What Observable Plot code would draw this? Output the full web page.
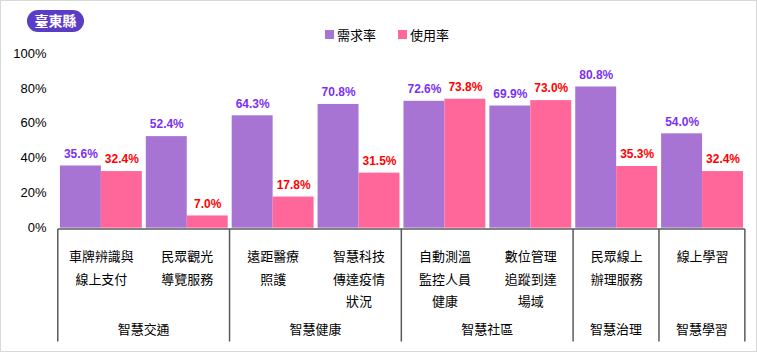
<!DOCTYPE html>
<html><head><meta charset="utf-8">
<script src="https://cdn.jsdelivr.net/npm/d3@7"></script>
<script src="https://cdn.jsdelivr.net/npm/@observablehq/plot@0.6"></script>
<style>
body{margin:0;background:#fff;font-family:"Liberation Sans","Noto Sans CJK TC",sans-serif;}
#wrap{position:relative;width:757px;height:352px;box-sizing:border-box;border:1px solid #d9d9d9;overflow:hidden;background:#fff}
#chart{position:absolute;left:-1px;top:-1px}
.badge{position:absolute;left:26px;top:9px;width:57px;height:22px;border-radius:11px;background:#5b3cc4;color:#fff;font-weight:bold;font-size:14px;line-height:22px;text-align:center;z-index:2}
.legend{position:absolute;left:324px;top:24px;display:flex;align-items:center;font-size:13px;color:#000;z-index:2}
.legend .item{display:flex;align-items:center;margin-right:22px}
.legend .sw{width:9px;height:9px;margin-right:3px}
</style></head>
<body>
<div id="wrap">
  <div class="badge">臺東縣</div>
  <div class="legend" id="legend"></div>
  <div id="chart"></div>
</div>
<script>
const categories = ["車牌辨識與\n線上支付","民眾觀光\n導覽服務","遠距醫療\n照護","智慧科技\n傳達疫情\n狀況","自動測溫\n監控人員\n健康","數位管理\n追蹤到達\n場域","民眾線上\n辦理服務","線上學習"];
const series = ["需求率","使用率"];
const needs = [35.6, 52.4, 64.3, 70.8, 72.6, 69.9, 80.8, 54.0];
const uses  = [32.4, 7.0, 17.8, 31.5, 73.8, 73.0, 35.3, 32.4];
const groupNames = ["智慧交通","智慧健康","智慧社區","智慧治理","智慧學習"];
const groupSizes = [2, 2, 2, 1, 1];
const yTicks = [0, 20, 40, 60, 80, 100];

const barColors = ["#a874d4", "#ff6699"];
const labelColors = ["#7b2ff7", "#ff0000"];

const rows = categories.flatMap((c, i) => [
  {cat: c, s: series[0], v: needs[i]},
  {cat: c, s: series[1], v: uses[i]}
]);

// legend
const lg = document.getElementById("legend");
series.forEach((s, i) => {
  const it = document.createElement("div"); it.className = "item";
  it.innerHTML = `<span class="sw" style="background:${barColors[i]}"></span><span>${s}</span>`;
  lg.appendChild(it);
});

const font = '"Liberation Sans","Noto Sans CJK TC",sans-serif';
const plot = Plot.plot({
  width: 757, height: 352,
  marginTop: 53, marginBottom: 124, marginLeft: 57, marginRight: 10,
  style: {fontFamily: font, fontSize: "13px", color: "#000", background: "transparent", overflow: "visible"},
  fx: {domain: categories, paddingInner: 0.05, paddingOuter: 0.025, axis: null},
  x: {domain: series, padding: 0, axis: null},
  y: {domain: [0, 100], axis: null},
  color: {domain: series, range: barColors},
  marks: [
    Plot.axisY({ticks: yTicks, tickFormat: d => d + "%", tickSize: 0, tickPadding: 14, fontSize: 13, label: null}),
    Plot.barY(rows, {fx: "cat", x: "s", y: "v", fill: "s"}),
    ...series.map((s, k) => Plot.text(rows.filter(d => d.s === s), {
      fx: "cat", x: "s", y: "v", text: d => d.v.toFixed(1) + "%",
      fill: labelColors[k], dy: -12, fontWeight: "bold", fontSize: 12
    })),
    Plot.text(categories, {fx: d => d, text: d => d, frameAnchor: "bottom", lineAnchor: "top", dy: 17, lineHeight: 1.73, fontSize: 13, fill: "#000"})
  ]
});
document.getElementById("chart").appendChild(plot);

// group separators and labels from the fx scale
const fx = plot.scale("fx");
const step = fx.apply(categories[1]) - fx.apply(categories[0]);
const half = step * 0.05 / 2;
const svg = d3.select(plot);
const g = svg.append("g").attr("stroke", "#595959").attr("stroke-width", 1.5);
const yTop = 229.3, yBot = 342;
let idx = 0;
const edges = [];
groupSizes.forEach((n) => { edges.push(fx.apply(categories[idx]) - half); idx += n; });
edges.push(fx.apply(categories[categories.length - 1]) + step - half);
g.append("line").attr("x1", edges[0]).attr("x2", edges[edges.length - 1]).attr("y1", yTop).attr("y2", yTop);
edges.forEach(x => g.append("line").attr("x1", x).attr("x2", x).attr("y1", yTop).attr("y2", yBot));
const tg = svg.append("g").attr("font-family", font).attr("font-size", 13).attr("text-anchor", "middle").attr("fill", "#000");
groupNames.forEach((name, i) => {
  tg.append("text").attr("x", (edges[i] + edges[i + 1]) / 2).attr("y", 330).attr("dy", "0.35em").text(name);
});
</script>
</body></html>
